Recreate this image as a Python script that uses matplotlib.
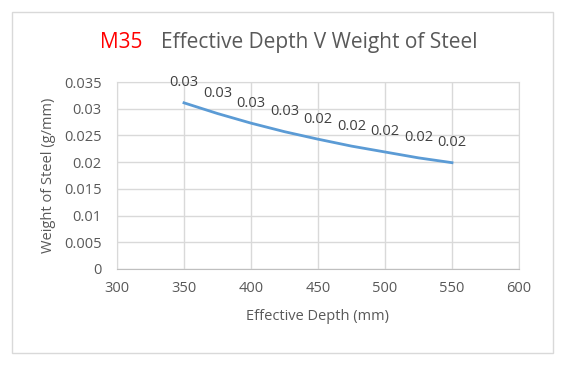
import matplotlib.pyplot as plt
from matplotlib.patches import Rectangle

plt.rcParams['font.family'] = ['Open Sans', 'DejaVu Sans']

# data
depth = [350, 375, 400, 425, 450, 475, 500, 525, 550]
weight = [0.0311, 0.0291, 0.0273, 0.0257, 0.0243, 0.0230, 0.0219, 0.0208, 0.0199]
x_ticks = [300, 350, 400, 450, 500, 550, 600]
y_ticks = [0, 0.005, 0.01, 0.015, 0.02, 0.025, 0.03, 0.035]
y_tick_labels = ['0', '0.005', '0.01', '0.015', '0.02', '0.025', '0.03', '0.035']

W, H = 566, 371
fig = plt.figure(figsize=(W / 100, H / 100), dpi=100)

# chart border
fig.patches.append(Rectangle((12 / W, 1 - 353 / H), (553 - 12) / W, (353 - 12) / H,
                             transform=fig.transFigure, fill=False,
                             edgecolor='#d9d9d9', linewidth=1))

ax = fig.add_axes([117 / W, 1 - 269 / H, (519 - 117) / W, (269 - 82) / H])
ax.plot(depth, weight, color='#5b9bd5', linewidth=2)
for x, y in zip(depth, weight):
    ax.annotate(f'{y:.2f}', (x, y), xytext=(0, 9), textcoords='offset points',
                ha='center', va='bottom', fontsize=10.5, color='#404040')

ax.set_xlim(300, 600)
ax.set_ylim(0, 0.035)
ax.set_xticks(x_ticks)
ax.set_yticks(y_ticks)
ax.set_yticklabels(y_tick_labels)
ax.tick_params(length=0, labelsize=10.5, labelcolor='#595959')
ax.tick_params(axis='y', pad=11)
ax.tick_params(axis='x', pad=9)
ax.grid(True, color='#d9d9d9', linewidth=1)
ax.set_axisbelow(True)
for s in ax.spines.values():
    s.set_color('#d9d9d9')
ax.spines['bottom'].set_color('#bfbfbf')

ax.set_xlabel('Effective Depth (mm)', fontsize=10.5, color='#595959', labelpad=9)
ax.set_ylabel('Weight of Steel (g/mm)', fontsize=10.5, color='#595959', labelpad=6)

fig.text(100 / W, 1 - 48 / H, 'M35', color='#ff0000', fontsize=15, ha='left', va='baseline')
fig.text(161 / W, 1 - 48 / H, 'Effective Depth V Weight of Steel', color='#595959',
         fontsize=15, ha='left', va='baseline')

fig.savefig('out.png', dpi=100)
